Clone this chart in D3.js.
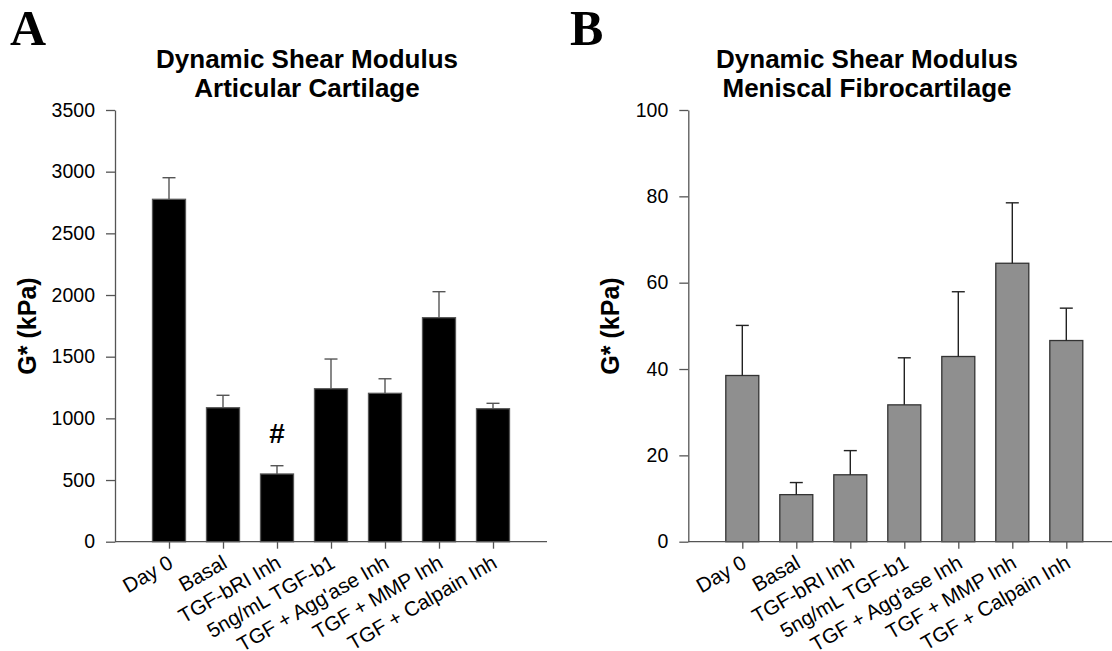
<!DOCTYPE html>
<html>
<head>
<meta charset="utf-8">
<script src="https://cdn.jsdelivr.net/npm/d3@7"></script>
<style>
  html, body { margin: 0; padding: 0; background: #fff; }
  svg { display: block; }
  text { font-family: "Liberation Sans", Arial, sans-serif; fill: #000; }
</style>
</head>
<body>
<svg id="chart" width="1112" height="651"></svg>
<script>
const categories = ["Day 0", "Basal", "TGF-bRI Inh", "5ng/mL TGF-b1", "TGF + Agg'ase Inh", "TGF + MMP Inh", "TGF + Calpain Inh"];

const articularMean = [2776, 1086, 549, 1240, 1203, 1816, 1078];
const articularErr  = [2951, 1187, 616, 1481, 1321, 2027, 1122];
const articularTicks = [0, 500, 1000, 1500, 2000, 2500, 3000, 3500];

const meniscalMean = [38.5, 10.9, 15.5, 31.7, 42.9, 64.5, 46.6];
const meniscalErr  = [50.1, 13.7, 21.1, 42.6, 57.9, 78.5, 54.1];
const meniscalTicks = [0, 20, 40, 60, 80, 100];

const svg = d3.select("#chart");

function panel(opts) {
  const { letter, letterX, titleLines, titleX, x0, x1, yMax, ticks, mean, err, fill, stroke, capColor, ylabelX, mark } = opts;
  const yTop = 110, yBot = 541.7;
  const g = svg.append("g");

  g.append("text").attr("x", letterX).attr("y", 45)
    .style("font-family", "'Liberation Serif', 'Times New Roman', serif")
    .style("font-weight", "bold").style("font-size", "50px").text(letter);

  titleLines.forEach((t, i) => {
    g.append("text").attr("x", titleX).attr("y", 68 + i * 29)
      .attr("text-anchor", "middle")
      .style("font-weight", "bold").style("font-size", "26px").text(t);
  });

  const x = d3.scalePoint().domain(categories).range([x0, x1]).padding(1);
  const y = d3.scaleLinear().domain([0, yMax]).range([yBot, yTop]);
  const bw = 33;

  // bars
  g.selectAll("rect.bar").data(categories).enter().append("rect")
    .attr("x", d => x(d) - bw / 2)
    .attr("y", (d, i) => y(mean[i]))
    .attr("width", bw)
    .attr("height", (d, i) => y(0) - y(mean[i]))
    .attr("fill", fill).attr("stroke", stroke).attr("stroke-width", 1.3);

  // error bars
  g.selectAll("line.err").data(categories).enter().append("line")
    .attr("x1", d => x(d)).attr("x2", d => x(d))
    .attr("y1", (d, i) => y(mean[i])).attr("y2", (d, i) => y(err[i]))
    .attr("stroke", capColor).attr("stroke-width", 1.4);
  g.selectAll("line.cap").data(categories).enter().append("line")
    .attr("x1", d => x(d) - 6.5).attr("x2", d => x(d) + 6.5)
    .attr("y1", (d, i) => y(err[i])).attr("y2", (d, i) => y(err[i]))
    .attr("stroke", capColor).attr("stroke-width", 1.4);

  // y axis
  const yAxis = g.append("g").attr("transform", `translate(${x0},0)`)
    .call(d3.axisLeft(y).tickValues(ticks).tickFormat(d3.format("d")).tickSize(9).tickPadding(11).tickSizeOuter(0));
  yAxis.select(".domain").attr("stroke", "#555").attr("stroke-width", 1.3);
  yAxis.selectAll(".tick line").attr("stroke", "#555").attr("stroke-width", 1.3);
  yAxis.selectAll(".tick text").style("font-size", "19.5px")
    .style("font-family", "'Liberation Sans', Arial, sans-serif").attr("fill", "#000");

  // x axis
  const xAxis = g.append("g").attr("transform", `translate(0,${yBot})`)
    .call(d3.axisBottom(x).tickSize(7).tickSizeOuter(0));
  xAxis.select(".domain").attr("stroke", "#555").attr("stroke-width", 1.3)
    .attr("d", `M${x0},0H${x1}`);
  xAxis.selectAll(".tick line").attr("stroke", "#555").attr("stroke-width", 1.3);
  xAxis.selectAll(".tick text")
    .style("font-size", "20.5px").style("font-family", "'Liberation Sans', Arial, sans-serif")
    .attr("fill", "#000")
    .attr("text-anchor", "end")
    .attr("dy", null)
    .attr("y", 0)
    .attr("transform", "translate(5,25) rotate(-30)");

  // y label
  g.append("text")
    .attr("transform", `translate(${ylabelX},326) rotate(-90)`)
    .attr("text-anchor", "middle")
    .style("font-weight", "bold").style("font-size", "25px").text("G* (kPa)");

  if (mark) {
    g.append("text").attr("x", x(categories[mark.index])).attr("y", y(mark.value))
      .attr("text-anchor", "middle")
      .style("font-weight", "bold").style("font-size", "28px").text(mark.text);
  }
}

panel({
  letter: "A", letterX: 10, titleLines: ["Dynamic Shear Modulus", "Articular Cartilage"], titleX: 307,
  x0: 115, x1: 547, yMax: 3500, ticks: articularTicks,
  mean: articularMean, err: articularErr,
  fill: "#000", stroke: "#555", capColor: "#555", ylabelX: 36,
  mark: { index: 2, value: 800, text: "#" }
});

panel({
  letter: "B", letterX: 570, titleLines: ["Dynamic Shear Modulus", "Meniscal Fibrocartilage"], titleX: 867,
  x0: 688.3, x1: 1120.3, yMax: 100, ticks: meniscalTicks,
  mean: meniscalMean, err: meniscalErr,
  fill: "#8f8f8f", stroke: "#333", capColor: "#222", ylabelX: 619
});
</script>
</body>
</html>
